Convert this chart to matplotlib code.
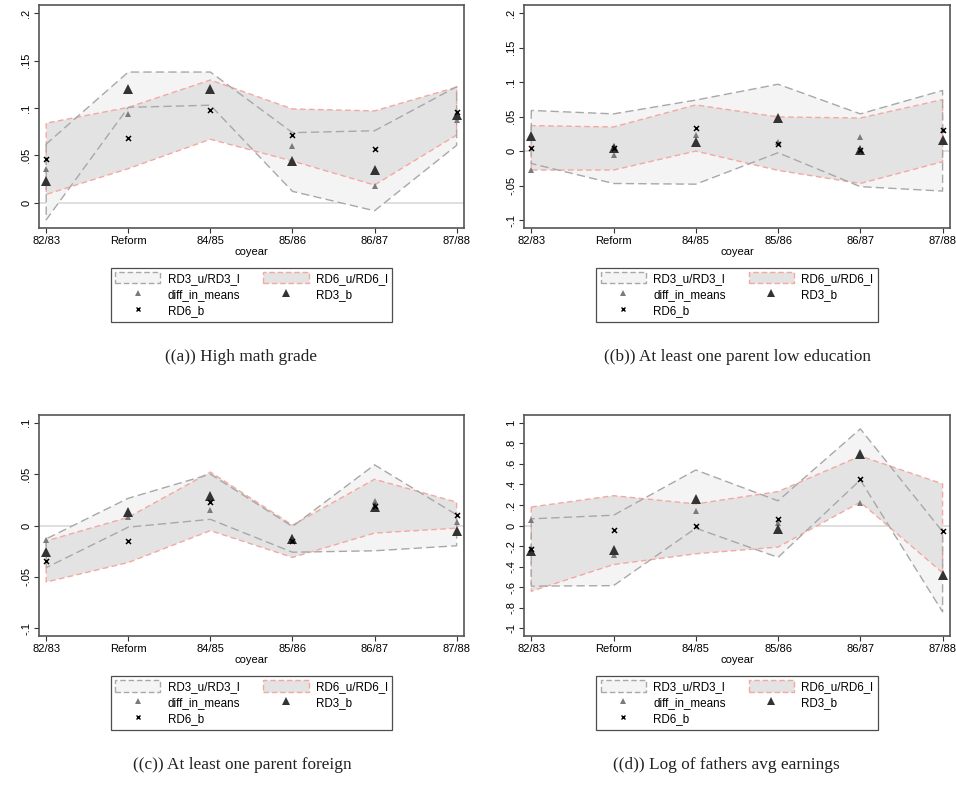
import matplotlib
matplotlib.use("Agg")
import matplotlib.pyplot as plt
from matplotlib.patches import Patch
from matplotlib.lines import Line2D

years = ["82/83", "Reform", "84/85", "85/86", "86/87", "87/88"]
xpos = list(range(len(years)))

# Panel (a) High math grade
a_rd3_u = [0.062, 0.138, 0.138, 0.074, 0.076, 0.1225]
a_rd3_l = [-0.018, 0.1007, 0.103, 0.012, -0.0085, 0.0606]
a_rd6_u = [0.084, 0.1007, 0.1296, 0.099, 0.097, 0.122]
a_rd6_l = [0.0088, 0.036, 0.067, 0.044, 0.0187, 0.0715]
a_diff = [0.036, 0.094, 0.118, 0.060, 0.0176, 0.087]
a_rd3_b = [0.023, 0.120, 0.120, 0.044, 0.035, 0.0926]
a_rd6_b = [0.046, 0.068, 0.098, 0.072, 0.057, 0.096]

# Panel (b) At least one parent low education
b_rd3_u = [0.059, 0.054, 0.074, 0.097, 0.054, 0.088]
b_rd3_l = [-0.018, -0.047, -0.048, -0.0024, -0.0516, -0.058]
b_rd6_u = [0.037, 0.035, 0.067, 0.0496, 0.048, 0.0747]
b_rd6_l = [-0.0275, -0.0275, 0.0, -0.028, -0.047, -0.0154]
b_diff = [-0.0275, -0.006, 0.024, 0.013, 0.0207, 0.031]
b_rd3_b = [0.0217, 0.005, 0.0135, 0.048, 0.0015, 0.016]
b_rd6_b = [0.005, 0.004, 0.033, 0.0106, 0.001, 0.030]

# Panel (c) At least one parent foreign
c_rd3_u = [-0.013, 0.0265, 0.050, -0.001, 0.059, 0.0104]
c_rd3_l = [-0.041, -0.0016, 0.006, -0.026, -0.0246, -0.0197]
c_rd6_u = [-0.015, 0.008, 0.052, 0.0003, 0.045, 0.0227]
c_rd6_l = [-0.055, -0.036, -0.005, -0.031, -0.0074, -0.0026]
c_diff = [-0.014, 0.008, 0.0146, -0.0113, 0.0236, 0.0032]
c_rd3_b = [-0.026, 0.013, 0.0288, -0.013, 0.0178, -0.005]
c_rd6_b = [-0.035, -0.015, 0.0233, -0.0155, 0.0185, 0.0104]

# Panel (d) Log of fathers avg earnings
d_rd3_u = [0.065, 0.10, 0.54, 0.24, 0.94, -0.06]
d_rd3_l = [-0.59, -0.585, -0.026, -0.31, 0.443, -0.84]
d_rd6_u = [0.18, 0.29, 0.21, 0.33, 0.676, 0.405]
d_rd6_l = [-0.64, -0.38, -0.275, -0.21, 0.227, -0.46]
d_diff = [0.055, -0.29, 0.142, 0.023, 0.217, -0.48]
d_rd3_b = [-0.25, -0.236, 0.26, -0.03, 0.696, -0.48]
d_rd6_b = [-0.23, -0.042, -0.0065, 0.061, 0.45, -0.052]

a_ticks = [0, 0.05, 0.1, 0.15, 0.2]
a_tlabels = ["0", ".05", ".1", ".15", ".2"]
b_ticks = [-0.1, -0.05, 0, 0.05, 0.1, 0.15, 0.2]
b_tlabels = ["-.1", "-.05", "0", ".05", ".1", ".15", ".2"]
c_ticks = [-0.1, -0.05, 0, 0.05, 0.1]
c_tlabels = ["-.1", "-.05", "0", ".05", ".1"]
d_ticks = [-1, -0.8, -0.6, -0.4, -0.2, 0, 0.2, 0.4, 0.6, 0.8, 1]
d_tlabels = ["-1", "-.8", "-.6", "-.4", "-.2", "0", ".2", ".4", ".6", ".8", "1"]

captions = ["((a)) High math grade",
            "((b)) At least one parent low education",
            "((c)) At least one parent foreign",
            "((d)) Log of fathers avg earnings"]

panels = [
    (a_rd3_u, a_rd3_l, a_rd6_u, a_rd6_l, a_diff, a_rd3_b, a_rd6_b, a_ticks, a_tlabels, (-0.0267, 0.2088)),
    (b_rd3_u, b_rd3_l, b_rd6_u, b_rd6_l, b_diff, b_rd3_b, b_rd6_b, b_ticks, b_tlabels, (-0.1116, 0.212)),
    (c_rd3_u, c_rd3_l, c_rd6_u, c_rd6_l, c_diff, c_rd3_b, c_rd6_b, c_ticks, c_tlabels, (-0.1075, 0.1075)),
    (d_rd3_u, d_rd3_l, d_rd6_u, d_rd6_l, d_diff, d_rd3_b, d_rd6_b, d_ticks, d_tlabels, (-1.075, 1.075)),
]

W, H = 956, 785
fig = plt.figure(figsize=(W / 100, H / 100), dpi=100)
plt.rcParams['font.family'] = ['Liberation Sans', 'DejaVu Sans']

# pixel boxes: left, top, right, bottom
boxes = [(39, 5, 464, 228), (524, 5, 950, 228), (39, 415, 464, 636), (524, 415, 950, 636)]
legend_top = [267.5, 267.5, 675.7, 675.7]
caption_xy = [(241, 357), (738, 357), (242, 765), (726, 765)]

RD3_FACE = "#f4f4f4"
RD3_EDGE = "#a8a8a8"
RD6_FACE = "#e3e3e3"
RD6_EDGE = "#f4a8a0"
DIFF_C = "#7a7a7a"
RD3B_C = "#333333"
FS = 8.0

for i, (p, box) in enumerate(zip(panels, boxes)):
    r3u, r3l, r6u, r6l, dm, r3b, r6b, ticks, tlabels, ylim = p
    l, t, r, b = box
    ax = fig.add_axes([l / W, 1 - b / H, (r - l) / W, (b - t) / H])
    ax.axhline(0, color="#d9d9d9", lw=1.2, zorder=1)
    ax.fill_between(xpos, r3l, r3u, facecolor=RD3_FACE, edgecolor="none", zorder=2)
    ax.fill_between(xpos, r6l, r6u, facecolor=RD6_FACE, edgecolor="none", zorder=3)
    ax.fill_between(xpos, r6l, r6u, facecolor="none", edgecolor=RD6_EDGE, lw=1.0,
                    linestyle=(0, (4, 2.5)), zorder=4)
    ax.fill_between(xpos, r3l, r3u, facecolor="none", edgecolor=RD3_EDGE, lw=1.0,
                    linestyle=(0, (6, 3)), zorder=5)
    ax.plot(xpos, dm, linestyle="none", marker="^", ms=5, color=DIFF_C, mew=0, zorder=6)
    ax.plot(xpos, r3b, linestyle="none", marker="^", ms=7.2, color=RD3B_C, mew=0, zorder=7)
    ax.plot(xpos, r6b, linestyle="none", marker="x", ms=3.6, color="black", mew=1.1, zorder=8)
    ax.set_xlim(-0.088, 5.09)
    ax.set_ylim(*ylim)
    ax.set_xticks(xpos)
    ax.set_xticklabels(years, fontsize=FS)
    ax.set_yticks(ticks)
    ax.set_yticklabels(tlabels, fontsize=FS, rotation=90, va="center")
    ax.tick_params(axis="both", direction="out", length=3.5, width=0.8, color="#333333", pad=2)
    ax.set_xlabel("coyear", fontsize=FS, labelpad=1)
    for s in ax.spines.values():
        s.set_color("#555555")
        s.set_linewidth(1.2)

    handles = [
        Patch(facecolor=RD3_FACE, edgecolor=RD3_EDGE, linestyle=(0, (4, 2)), lw=1.0),
        Line2D([], [], linestyle="none", marker="^", ms=4.5, color=DIFF_C, mew=0),
        Line2D([], [], linestyle="none", marker="x", ms=3.5, color="black", mew=1.0),
        Patch(facecolor=RD6_FACE, edgecolor=RD6_EDGE, linestyle=(0, (4, 2)), lw=1.0),
        Line2D([], [], linestyle="none", marker="^", ms=6, color=RD3B_C, mew=0),
    ]
    labels = ["RD3_u/RD3_l", "diff_in_means", "RD6_b", "RD6_u/RD6_l", "RD3_b"]
    cx = (l + r) / 2 / W
    leg = fig.legend(handles, labels, ncol=2, loc="upper center",
                     bbox_to_anchor=(cx, 1 - legend_top[i] / H), bbox_transform=fig.transFigure,
                     prop={"size": 8.4}, frameon=True, fancybox=False, handlelength=3.86,
                     handleheight=1.1, columnspacing=2.0, labelspacing=0.3, borderpad=0.4,
                     handletextpad=0.63, borderaxespad=0)
    leg.get_frame().set_edgecolor("#222222")
    leg.get_frame().set_linewidth(0.9)

    cxp, cyp = caption_xy[i]
    fig.text(cxp / W, 1 - cyp / H, captions[i], ha="center", va="center",
             fontsize=12.4, family=["Liberation Serif", "DejaVu Serif"], color="#222222")

fig.savefig("out.png", dpi=100)
